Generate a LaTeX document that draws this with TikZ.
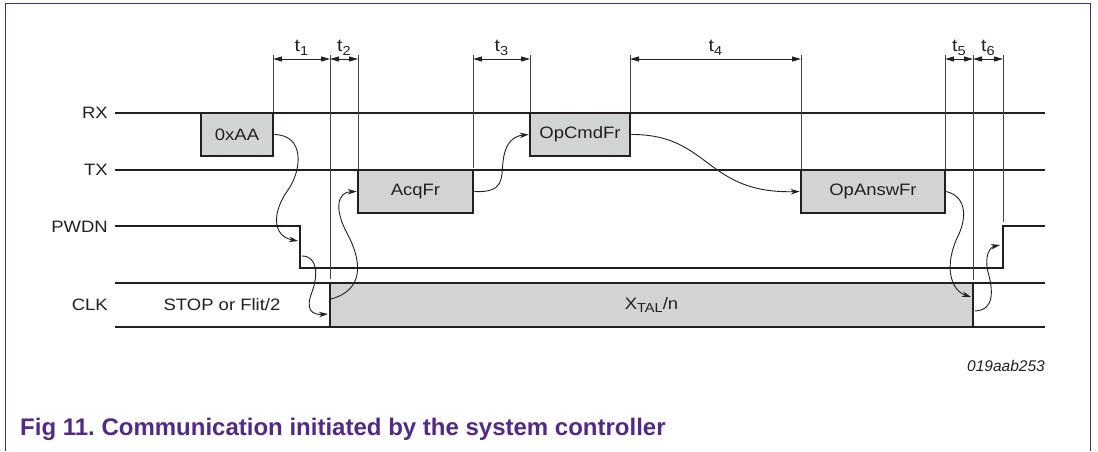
\documentclass[tikz,border=0pt]{standalone}
\usepackage{fontspec}
\setmainfont{Liberation Sans}
\newfontfamily\sigfont{Liberation Sans}[FakeStretch=1.12]
\usetikzlibrary{arrows.meta}

\definecolor{nxpurple}{RGB}{82,42,132}
\definecolor{boxgray}{RGB}{210,211,213}
\definecolor{ink}{RGB}{35,31,32}

\newcommand{\lowsub}[1]{\raisebox{-0.45ex}{\fontsize{13}{14}\selectfont #1}}

\tikzset{
  sig/.style={draw=ink, line width=2.6pt},
  sigbox/.style={draw=ink, fill=boxgray, line width=2.6pt, inner sep=0pt,
    text=ink, font=\sigfont\fontsize{16.5}{18}\selectfont},
  siglabel/.style={anchor=east, inner sep=0pt, text=ink,
    font=\sigfont\fontsize{16.5}{18}\selectfont},
  guide/.style={draw=ink!85, line width=0.9pt},
  dim/.style={{Triangle[length=9pt,width=5pt]}-{Triangle[length=9pt,width=5pt]},
    draw=ink, line width=0.9pt},
  tlabel/.style={above, inner sep=3pt, text=ink,
    font=\sigfont\fontsize{17.5}{18}\selectfont},
  hop/.style={-{Stealth[length=9pt,width=5.5pt]}, draw=ink, line width=0.9pt},
}

\begin{document}
\begin{tikzpicture}[x=1pt, y=-1pt]
  \useasboundingbox (0,0) rectangle (1098,451);

  % frame
  \draw[nxpurple, line width=1.6pt] (5.5,451) -- (5.5,3.5) -- (1090.5,3.5) -- (1090.5,451);

  % signal names
  \node[siglabel] (rx) at (108,113) {RX};
  \node[siglabel] (tx) at (108,170) {TX};
  \node[siglabel] (pwdn) at (108,227) {PWDN};
  \node[siglabel] (clk) at (108,305) {CLK};

  % signal lines
  \draw[sig] (115,113) -- (1045,113);
  \draw[sig] (115,170) -- (1045,170);
  \draw[sig] (115,226) -| (300,268) -| (1003,226) -- (1045,226);
  \draw[sig] (115,283) -- (1045,283);
  \draw[sig] (115,327) -- (1045,327);

  % guide lines
  \foreach \x/\yb in {273/113, 330/279, 358/170, 473/168, 530/113,
                      630/113, 801/170, 945/170, 973/280, 1003/222}
    \draw[guide] (\x,55) -- (\x,\yb);

  % frames
  \node[sigbox, minimum width=72, minimum height=43] (aa) at (237,134.5) {0xAA};
  \node[sigbox, minimum width=115, minimum height=43] (acq) at (415.5,191.5) {AcqFr};
  \node[sigbox, minimum width=100, minimum height=43] (opcmd) at (580,134.5) {OpCmdFr};
  \node[sigbox, minimum width=144, minimum height=43] (opansw) at (873,191.5) {OpAnswFr};
  \node[sigbox, minimum width=643, minimum height=44] (xtal) at (651.5,305)
    {X\lowsub{TAL}/n};
  \node[siglabel, anchor=center] (stop) at (222,305) {STOP or Flit/2};

  % timing marks
  \coordinate (m1) at (273,59);
  \coordinate (m2) at (330,59);
  \coordinate (m3) at (358,59);
  \coordinate (m4) at (473,59);
  \coordinate (m5) at (530,59);
  \coordinate (m6) at (630,59);
  \coordinate (m7) at (801,59);
  \coordinate (m8) at (945,59);
  \coordinate (m9) at (973,59);
  \coordinate (m10) at (1003,59);
  \draw[dim] (m1) -- node[tlabel] {t\lowsub{1}} (m2);
  \draw[dim] (m2) -- node[tlabel] {t\lowsub{2}} (m3);
  \draw[dim] (m4) -- node[tlabel] {t\lowsub{3}} (m5);
  \draw[dim] (m6) -- node[tlabel] {t\lowsub{4}} (m7);
  \draw[dim] (m8) -- node[tlabel] {t\lowsub{5}} (m9);
  \draw[dim] (m9) -- node[tlabel] {t\lowsub{6}} (m10);

  % edge points
  \coordinate (pwdnfall) at (298,241);
  \coordinate (pwdnlow) at (302,256);
  \coordinate (clkin) at (328,314);
  \coordinate (clkrise) at (331,299);
  \coordinate (clkfall) at (971,297);
  \coordinate (clkoff) at (975,311);
  \coordinate (pwdnrise) at (1000,245);

  % causality
  \draw[hop] (aa.east) .. controls (305,135) and (302,170) .. (288,190)
                       .. controls (272,212) and (272,236) .. (pwdnfall);
  \draw[hop] (pwdnlow) .. controls (318,256) and (318,276) .. (312,292)
                       .. controls (305,310) and (312,315) .. (clkin);
  \draw[hop] (clkrise) .. controls (364,290) and (362,262) .. (348,235)
                       .. controls (333,208) and (338,192) .. (acq.west);
  \draw[hop] (acq.east) .. controls (505,193) and (501,178) .. (503,162)
                        .. controls (505,142) and (514,136) .. (opcmd.west);
  \draw[hop] (opcmd.east) .. controls (710,134) and (705,194) .. (opansw.west);
  \draw[hop] (opansw.east) .. controls (968,197) and (966,220) .. (958,236)
                           .. controls (944,265) and (950,290) .. (clkfall);
  \draw[hop] (clkoff) .. controls (995,310) and (993,290) .. (988,272)
                      .. controls (984,256) and (990,247) .. (pwdnrise);

  % figure code and caption
  \node[anchor=base east, inner sep=0pt, text=ink,
    font=\itshape\fontsize{15.5}{18}\selectfont] (code) at (1045,371) {019aab253};
  \node[anchor=base west, inner sep=0pt, text=nxpurple,
    font=\bfseries\fontsize{24}{28}\selectfont] (caption) at (20,435)
    {Fig 11.\ Communication initiated by the system controller};
\end{tikzpicture}
\end{document}
